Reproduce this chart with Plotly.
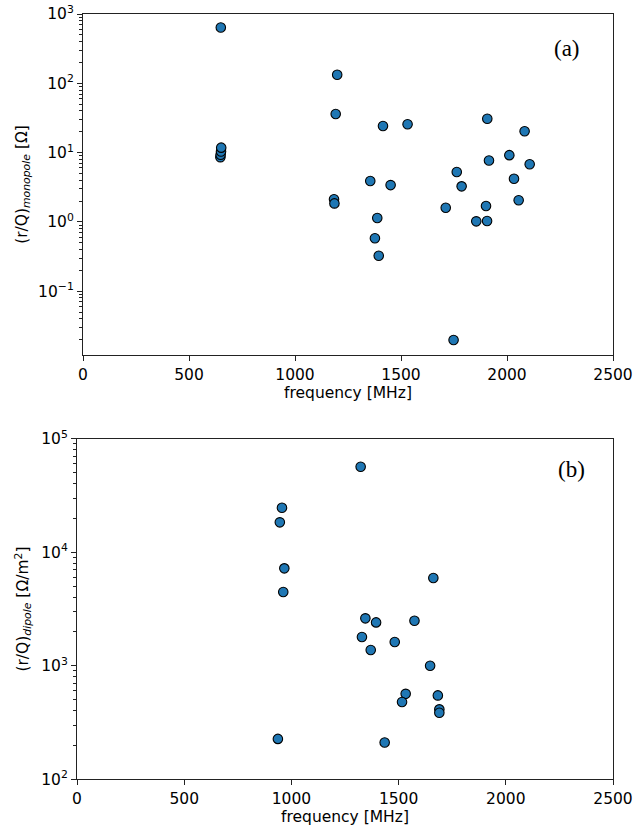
import numpy as np
import plotly.graph_objects as go

# Panel (a): monopole modes
freq_mono = [650, 648, 649, 651, 652,
             1199, 1192, 1184, 1186,
             1415, 1531, 1907, 2083, 2011, 1915, 2107, 1763, 2033, 1786,
             1355, 1451, 2055, 1711, 1901, 1855, 1906, 1388, 1377, 1395, 1748]
rq_mono = [640, 8.6, 9.3, 10.4, 11.8,
           133, 36, 2.12, 1.85,
           24.2, 25.6, 30.8, 20.3, 9.2, 7.7, 6.8, 5.25, 4.2, 3.26,
           3.9, 3.4, 2.05, 1.6, 1.7, 1.02, 1.03, 1.14, 0.58, 0.325, 0.0198]

# Panel (b): dipole modes
freq_dip = [956, 946, 967, 962, 937,
            1323, 1662, 1345, 1395, 1574, 1329, 1482, 1370, 1647,
            1533, 1683, 1516, 1690, 1690, 1435]
rq_dip = [24660, 18340, 7210, 4460, 227,
          56600, 5930, 2617, 2410, 2495, 1790, 1618, 1375, 1000,
          566, 548, 479, 413, 386, 211]

x_ticks = [0, 500, 1000, 1500, 2000, 2500]
ya_exps = [-1, 0, 1, 2, 3]
yb_exps = [2, 3, 4, 5]


def pow_label(e):
    s = str(e).replace("-", "\u2212")
    return f"10<sup>{s}</sup>"


def minor_vals(lo, hi):
    vals = []
    for e in range(lo, hi + 1):
        for d in range(2, 10):
            vals.append(d * 10.0 ** e)
    return vals


W, H = 644, 827
fig = go.Figure()
marker = dict(size=9.5, color="#1f77b4", line=dict(color="black", width=1.1))
fig.add_trace(go.Scatter(x=freq_mono, y=rq_mono, mode="markers", marker=marker,
                         xaxis="x", yaxis="y", showlegend=False))
fig.add_trace(go.Scatter(x=freq_dip, y=rq_dip, mode="markers", marker=marker,
                         xaxis="x2", yaxis="y2", showlegend=False))

font = dict(family="DejaVu Sans", size=15.5, color="black")
lfont = dict(family="DejaVu Sans", size=15.5, color="black")
axcommon = dict(showline=True, linecolor="#222", linewidth=1.2, mirror=True,
                ticks="outside", ticklen=5, tickwidth=1.1, tickcolor="#222",
                showgrid=False, zeroline=False, tickfont=font, automargin=False)

fig.update_layout(
    width=W, height=H,
    margin=dict(l=0, r=0, t=0, b=0, autoexpand=False),
    plot_bgcolor="white", paper_bgcolor="white",
    font=font,
    xaxis=dict(axcommon, domain=[83 / W, 613 / W], anchor="y", range=[0, 2500],
               tickvals=x_ticks,
               title=dict(text="frequency [MHz]", font=lfont, standoff=4)),
    yaxis=dict(axcommon, domain=[1 - 355 / H, 1 - 14 / H], anchor="x", type="log",
               range=[-1.92, 3],
               tickvals=[10.0 ** e for e in ya_exps],
               ticktext=[pow_label(e) for e in ya_exps],
               minor=dict(ticks="outside", ticklen=2.5, tickcolor="#222",
                          tickmode="array", tickvals=minor_vals(-2, 2)),
               title=dict(text="(r/Q)<sub><i>monopole</i></sub> [Ω]", font=lfont,
                          standoff=6)),
    xaxis2=dict(axcommon, domain=[77 / W, 613 / W], anchor="y2", range=[0, 2500],
                tickvals=x_ticks,
                title=dict(text="frequency [MHz]", font=lfont, standoff=4)),
    yaxis2=dict(axcommon, domain=[1 - 779.3 / H, 1 - 438.7 / H], anchor="x2",
                type="log", range=[2, 5],
                tickvals=[10.0 ** e for e in yb_exps],
                ticktext=[pow_label(e) for e in yb_exps],
                minor=dict(ticks="outside", ticklen=2.5, tickcolor="#222",
                           tickmode="array", tickvals=minor_vals(2, 4)),
                title=dict(text="(r/Q)<sub><i>dipole</i></sub> [Ω/m<sup>2</sup>]",
                           font=lfont, standoff=8)),
    annotations=[
        dict(text="(a)", xref="x domain", yref="y domain", x=0.913, y=0.900,
             xanchor="center", yanchor="middle",
             showarrow=False, font=dict(family="Liberation Serif", size=23, color="black")),
        dict(text="(b)", xref="x2 domain", yref="y2 domain", x=0.922, y=0.911,
             xanchor="center", yanchor="middle",
             showarrow=False, font=dict(family="Liberation Serif", size=23, color="black")),
    ],
)

fig.write_html("out.html")
